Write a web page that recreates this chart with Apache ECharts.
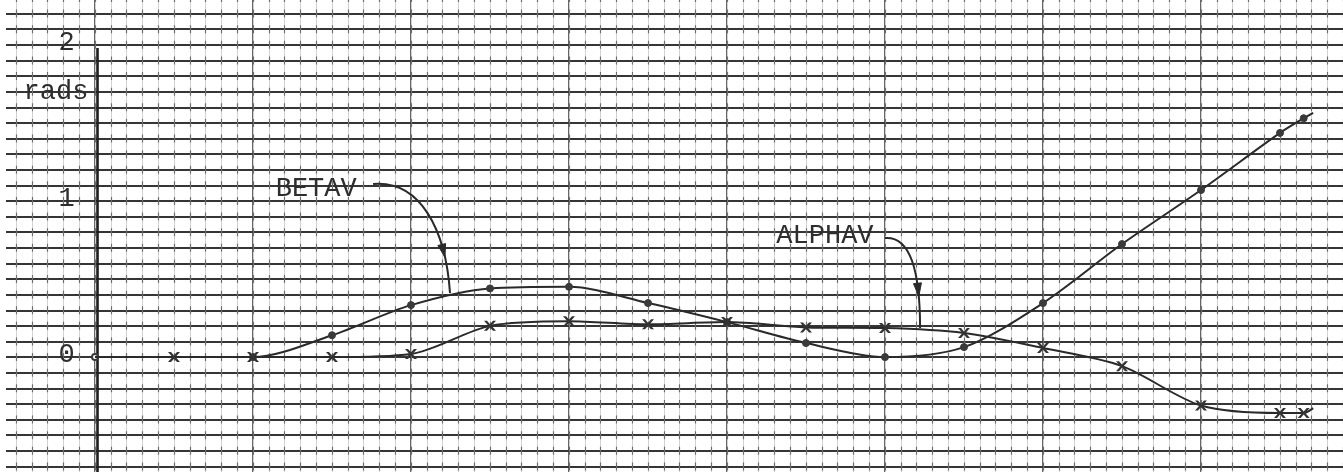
<!DOCTYPE html>
<html>
<head>
<meta charset="utf-8">
<script src="https://cdn.jsdelivr.net/npm/echarts@6/dist/echarts.min.js"></script>
<style>
  html, body { margin: 0; padding: 0; background: #ffffff; overflow: hidden; width: 1343px; height: 472px; }
  /* the ruled sheet runs past the window on every side */
  #chart { position: absolute; left: -63px; top: -2px; width: 1422px; height: 484px; }
</style>
</head>
<body>
<div id="chart"></div>
<script>
// Sample positions along the horizontal axis (one unit = one heavy grid division)
const xValues = [0, 0.5, 1, 1.5, 2, 2.5, 3, 3.5, 4, 4.5, 5, 5.5, 6, 6.5, 7, 7.5, 7.65, 7.71];

// Angular responses, in rads
const betav  = [0, 0, 0, 0.14, 0.333, 0.44, 0.45, 0.346, 0.224, 0.09, 0.0, 0.064, 0.346, 0.724, 1.07, 1.436, 1.53, 1.565];
const alphav = [0, 0, 0, 0, 0.02, 0.2, 0.23, 0.21, 0.224, 0.19, 0.186, 0.154, 0.058, -0.058, -0.31, -0.358, -0.358, -0.327];

// Value axis labels
const yTickValues = [0, 1, 2];
const yTickLabels = ['0', '1', '2'];
const yUnitLabel = 'rads';

// Curve names used in the call-outs
const seriesNames = ['BETAV', 'ALPHAV'];

// Call-out layout, in data coordinates: text centre, then cubic arrow (start, ctrl1, ctrl2, end)
const callouts = [
  { text: seriesNames[0], at: [1.40, 1.077], path: [[1.76, 1.109], [2.06, 1.135], [2.22, 0.814], [2.247, 0.41]] },
  { text: seriesNames[1], at: [4.62, 0.776], path: [[5.0, 0.763], [5.158, 0.776], [5.222, 0.558], [5.222, 0.186]] }
];

// Extent of the ruled sheet, in data units
const X_MIN = -1, X_MAX = 8, Y_MIN = -0.8, Y_MAX = 2.3;
const SHEET_H = 484;
const ROW = SHEET_H / Math.round((Y_MAX - Y_MIN) * 10);   // height of one 0.1-rad row
const TICK = 8;                                          // stroke of the fine ruling across each row line

const INK = '#2a2a2a';
const TYPE_FONT = "'Liberation Mono', 'DejaVu Sans Mono', monospace";
const last = xValues.length - 1;

function pairs(ys) { return xValues.map((x, i) => [x, ys[i]]); }

// Typed "x" mark used for ALPHAV points
const crossPath = 'path://M0,0 L3,0 L6,3.4 L9,0 L12,0 L7.6,5 L12,10 L9,10 L6,6.6 L3,10 L0,10 L4.4,5 Z';

const hiddenAxis = { axisLine: { show: false }, axisTick: { show: false }, axisLabel: { show: false } };

const chart = echarts.init(document.getElementById('chart'), null, { renderer: 'canvas' });

const option = {
  animation: false,
  backgroundColor: '#ffffff',
  grid: { left: 0, right: 0, top: 0, bottom: 0, containLabel: false },
  xAxis: [
    { // data scale (units of heavy divisions), heavy ruling every unit
      type: 'value', min: X_MIN, max: X_MAX, interval: 1, ...hiddenAxis,
      splitLine: { show: true, lineStyle: { color: '#333333', width: 1.5 } }
    },
    { // fine ruling, counted in tenths of a division: faint continuous line
      type: 'value', min: X_MIN * 10, max: X_MAX * 10, interval: 1, ...hiddenAxis,
      splitLine: { show: true, lineStyle: { color: '#d2d2d2', width: 1 } }
    },
    { // fine ruling: darker stroke across each row line
      type: 'value', min: X_MIN * 10, max: X_MAX * 10, interval: 1, ...hiddenAxis,
      splitLine: { show: true, lineStyle: { color: '#6e6e6e', width: 1.2, type: [TICK / 2, ROW - TICK, TICK / 2, 0] } }
    }
  ],
  yAxis: [
    { // data scale, rads
      type: 'value', min: Y_MIN, max: Y_MAX, ...hiddenAxis, splitLine: { show: false }
    },
    { // horizontal ruling every 0.1 rad, counted in tenths
      type: 'value', min: Math.round(Y_MIN * 10), max: Math.round(Y_MAX * 10), interval: 1, ...hiddenAxis,
      splitLine: { show: true, lineStyle: { color: '#353535', width: 1.8 } }
    }
  ],
  series: [
    {
      name: seriesNames[0], type: 'line', xAxisIndex: 0, yAxisIndex: 0,
      data: pairs(betav), smooth: 0.3, z: 5,
      symbol: (v, p) => p.dataIndex === 0 ? 'emptyCircle' : (p.dataIndex === 1 || p.dataIndex === last ? 'none' : 'circle'),
      symbolSize: (v, p) => p.dataIndex === 0 ? 6 : 7,
      lineStyle: { color: INK, width: 2 },
      itemStyle: { color: '#3a3a3a', borderColor: '#3a3a3a', borderWidth: 1 },
      markLine: {
        silent: true, symbol: 'none', label: { show: false },
        lineStyle: { color: '#1e1e1e', width: 2.6, type: 'solid' },
        data: [[{ coord: [0.012, 1.98] }, { coord: [0.012, Y_MIN] }]]
      }
    },
    {
      name: seriesNames[1], type: 'line', xAxisIndex: 0, yAxisIndex: 0,
      data: pairs(alphav), smooth: 0.3, z: 6,
      symbol: (v, p) => (p.dataIndex === 0 || p.dataIndex === last) ? 'none' : crossPath,
      symbolSize: [12, 10],
      lineStyle: { color: INK, width: 2 },
      itemStyle: { color: '#333333' }
    }
  ]
};

chart.setOption(option);

function px(pt) { return chart.convertToPixel({ seriesIndex: 0 }, pt); }

function bez(p, t) {
  const u = 1 - t;
  return [
    u*u*u*p[0][0] + 3*u*u*t*p[1][0] + 3*u*t*t*p[2][0] + t*t*t*p[3][0],
    u*u*u*p[0][1] + 3*u*u*t*p[1][1] + 3*u*t*t*p[2][1] + t*t*t*p[3][1]
  ];
}

const graphics = [];

// blank margin at the paper's left edge
{
  const edge = px([X_MIN, 0])[0];
  graphics.push({ type: 'rect', shape: { x: edge, y: 0, width: 63 + 6 - edge, height: SHEET_H }, style: { fill: '#ffffff' }, z: 1 });
}

const textEl = (txt, x, y) => ({
  type: 'text', z: 20,
  style: { text: txt, x: x, y: y, fill: '#2e2e2e', font: '27px ' + TYPE_FONT, align: 'center', verticalAlign: 'middle' }
});

// value labels and unit
yTickValues.forEach((v, i) => {
  const p = px([-0.18, v]);
  graphics.push(textEl(yTickLabels[i], p[0], p[1] - 2));
});
{
  const p = px([-0.247, 1.70]);
  graphics.push(textEl(yUnitLabel, p[0], p[1]));
}

// call-outs with curved arrows
callouts.forEach(c => {
  const t = px(c.at);
  graphics.push(textEl(c.text, t[0], t[1]));
  const pts = c.path.map(px);
  graphics.push({
    type: 'bezierCurve', z: 20,
    shape: { x1: pts[0][0], y1: pts[0][1], cpx1: pts[1][0], cpy1: pts[1][1], cpx2: pts[2][0], cpy2: pts[2][1], x2: pts[3][0], y2: pts[3][1] },
    style: { stroke: INK, lineWidth: 2, fill: null }
  });
  const tip = bez(pts, 0.8);
  const back = bez(pts, 0.74);
  const dx = tip[0] - back[0], dy = tip[1] - back[1];
  const len = Math.hypot(dx, dy) || 1;
  const ux = dx / len, uy = dy / len;
  const L = 13, W = 4;
  const bx = tip[0] - ux * L, by = tip[1] - uy * L;
  graphics.push({
    type: 'polygon', z: 21,
    shape: { points: [[tip[0], tip[1]], [bx - uy * W, by + ux * W], [bx + uy * W, by - ux * W]] },
    style: { fill: INK, stroke: INK, lineWidth: 1 }
  });
});

chart.setOption({ graphic: graphics });
</script>
</body>
</html>
